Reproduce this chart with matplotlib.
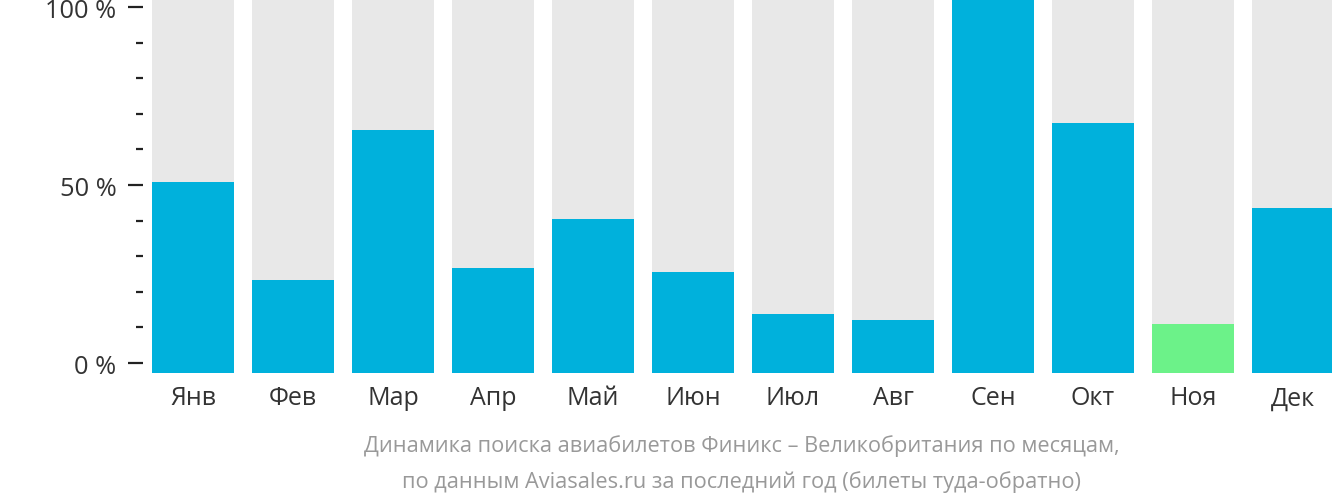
import matplotlib.pyplot as plt
from matplotlib.ticker import MultipleLocator

plt.rcParams['font.family'] = ['Open Sans', 'DejaVu Sans']

months = ["Янв", "Фев", "Мар", "Апр", "Май", "Июн",
          "Июл", "Авг", "Сен", "Окт", "Ноя", "Дек"]
# share of searches, % of the busiest month
values = [51.2, 25.0, 64.9, 28.2, 41.3, 26.9, 15.9, 14.3, 100, 66.8, 13.2, 44.0]
highlight = "Ноя"  # current month
ytick_vals = [0, 50, 100]
ytick_labels = ["0 %", "50 %", "100 %"]
caption = ("Динамика поиска авиабилетов Финикс – Великобритания по месяцам,\n"
           "по данным Aviasales.ru за последний год (билеты туда-обратно)")

blue = "#00b1dc"
green = "#6cf289"
grey = "#e8e8e8"

fig = plt.figure(figsize=(13.32, 5.02), dpi=100)
ax = fig.add_axes([143 / 1332, (502 - 374) / 502, 1189 / 1332, 374 / 502])

ylo, yhi = -2.8, 102.25
xs = list(range(len(months)))
full = yhi - ylo

ax.bar(xs, [full] * len(xs), bottom=ylo, width=0.82, color=grey, zorder=1)
colors = [green if m == highlight else blue for m in months]
ax.bar(xs, [v / 100 * full for v in values], bottom=ylo, width=0.82,
       color=colors, zorder=2)

ax.set_xlim(-0.5, 11.39)
ax.set_ylim(ylo, yhi)
ax.set_xticks(xs)
ax.set_xticklabels(months, fontsize=18, color="#333333")
ax.set_yticks(ytick_vals)
ax.set_yticklabels(ytick_labels, fontsize=18.3, color="#333333")
ax.yaxis.set_minor_locator(MultipleLocator(10))
ax.tick_params(axis="x", length=0, pad=9)
ax.tick_params(axis="y", which="major", length=11, width=1.6, color="#222222", pad=8)
ax.tick_params(axis="y", which="minor", length=5, width=1.6, color="#222222")
for s in ax.spines.values():
    s.set_visible(False)

fig.text(0.557, 0.075, caption, ha="center", va="center", fontsize=15.7,
         color="#999999", linespacing=1.85)

fig.savefig("out.png", dpi=100)
